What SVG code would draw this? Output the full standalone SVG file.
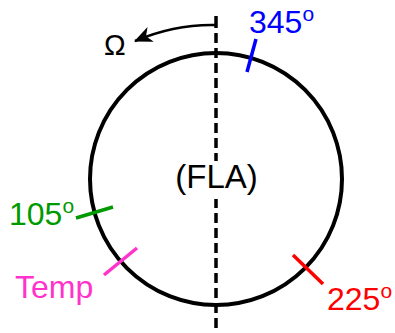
<svg xmlns="http://www.w3.org/2000/svg" width="395" height="333" viewBox="0 0 395 333">
<defs>
<style>
text{font-family:"Liberation Sans",Arial,sans-serif}
.t{stroke-width:3.5;stroke-linecap:butt}
.lbl{font-size:32px}
.sup{font-size:21px}
</style>
<marker id="ah" markerWidth="20" markerHeight="16" refX="17" refY="8" orient="auto" markerUnits="userSpaceOnUse">
<path d="M0,0 L18,8 L0,16 L5,8 Z" fill="#000"/>
</marker>
</defs>
<rect width="395" height="333" fill="#fff"/>
<g id="connectors">
<line x1="216" y1="16" x2="216" y2="28" stroke="#000" stroke-width="3.5"/>
<line x1="216" y1="33" x2="216" y2="333" stroke="#000" stroke-width="3.5" stroke-dasharray="10,5"/>
<path d="M216,25 Q175,24 135,41" fill="none" stroke="#000" stroke-width="2.5" marker-end="url(#ah)"/>
</g>
<g id="disk">
<circle cx="216" cy="179" r="126" fill="none" stroke="#000" stroke-width="4"/>
<rect x="170" y="161" width="94" height="38" fill="#fff"/>
<text x="216.5" y="188" font-size="33" text-anchor="middle" fill="#000">(FLA)</text>
</g>
<g id="omega"><text x="104" y="55" font-size="29" fill="#000">Ω</text></g>
<g id="s345">
<line class="t" x1="247" y1="72" x2="256" y2="39" stroke="#0000ff"/>
<text class="lbl" x="249" y="33" fill="#0000ff">345<tspan class="sup" dy="-12">o</tspan></text>
</g>
<g id="s105">
<line class="t" x1="76" y1="218" x2="113" y2="207" stroke="#009900"/>
<text class="lbl" x="9" y="225" fill="#009900">105<tspan class="sup" dy="-12">o</tspan></text>
</g>
<g id="temp">
<line class="t" x1="104" y1="275" x2="137" y2="248" stroke="#ff33cc"/>
<text class="lbl" x="15" y="298" fill="#ff33cc">Temp</text>
</g>
<g id="s225">
<line class="t" x1="293" y1="255" x2="323" y2="284" stroke="#ff0000"/>
<text class="lbl" x="327" y="310" fill="#ff0000">225<tspan class="sup" dy="-12">o</tspan></text>
</g>
</svg>
